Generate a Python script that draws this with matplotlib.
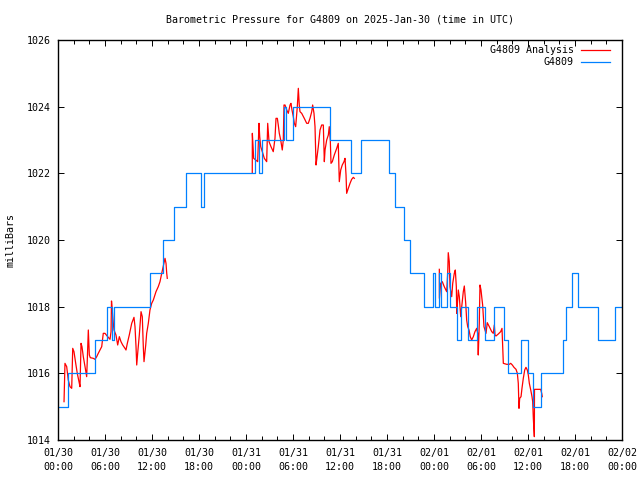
"""
Barometric pressure chart for G4809 - analysis vs observed, gnuplot look.
"""
import matplotlib
matplotlib.use("Agg")
import matplotlib.pyplot as plt
from matplotlib.lines import Line2D

# hours since 2025-01-30 00:00 UTC
obs_hours = [0, 1.28, 4.76, 6.3, 6.9, 7.1, 11.7, 13.4, 14.8, 16.3, 18.25, 18.6,
             25.2, 25.7, 26.05, 28.8, 29.1, 30.0, 34.7, 37.4, 38.7, 42.25, 43.0,
             44.2, 44.9, 46.7, 47.9, 48.1, 48.65, 48.9, 49.7, 50.0, 50.9, 51.45,
             52.35, 53.55, 54.5, 55.65, 56.95, 57.45, 59.1, 60.0, 60.6, 61.65,
             64.5, 64.85, 65.6, 66.4, 68.95, 71.05, 72]
obs_mb = [1015, 1016, 1017, 1018, 1017, 1018, 1019, 1020, 1021, 1022, 1021, 1022,
          1023, 1022, 1023, 1024, 1023, 1024, 1023, 1022, 1023, 1022, 1021,
          1020, 1019, 1018, 1019, 1018, 1019, 1018, 1019, 1018, 1017, 1018,
          1017, 1018, 1017, 1018, 1017, 1016, 1017, 1016, 1015, 1016,
          1017, 1018, 1019, 1018, 1017, 1018, 1018]

# analysis, three separate runs
ana1_hours = [0.77, 0.89, 1.11, 1.31, 1.53, 1.75, 1.88, 2.04, 2.26, 2.46, 2.68, 2.81,
              2.94, 3.06, 3.23, 3.45, 3.66, 3.74, 3.87, 4.00, 4.12, 4.51, 4.72, 4.94,
              5.14, 5.58, 5.78, 6.00, 6.34, 6.64, 6.77, 6.83, 6.93, 7.06, 7.15, 7.40,
              7.62, 7.83, 8.04, 8.26, 8.55, 8.68, 8.85, 9.10, 9.41, 9.70, 9.83, 9.96,
              10.05, 10.17, 10.38, 10.60, 10.76, 10.89, 10.98, 11.20, 11.32, 11.53,
              11.74, 11.96, 12.17, 12.51, 12.80, 13.02, 13.24, 13.66, 13.79, 13.88, 13.95]
ana1_mb = [1015.15, 1016.30, 1016.20, 1015.80, 1015.60, 1015.55, 1016.75, 1016.65,
           1016.30, 1016.00, 1015.75, 1015.60, 1016.90, 1016.80, 1016.50, 1016.20,
           1015.90, 1016.40, 1017.30, 1016.55, 1016.47, 1016.45, 1016.42, 1016.50,
           1016.60, 1016.80, 1017.20, 1017.20, 1017.10, 1017.02, 1017.25, 1018.17,
           1017.90, 1017.50, 1017.30, 1017.15, 1016.85, 1017.10, 1016.95, 1016.85,
           1016.75, 1016.70, 1016.90, 1017.15, 1017.50, 1017.68, 1017.40, 1016.80,
           1016.25, 1016.60, 1017.15, 1017.85, 1017.70, 1016.80, 1016.35, 1016.85,
           1017.20, 1017.50, 1017.90, 1018.10, 1018.20, 1018.45, 1018.60, 1018.75,
           1019.00, 1019.45, 1019.30, 1019.00, 1018.85]

ana2_hours = [24.80, 24.81, 24.89, 24.98, 25.24, 25.49, 25.66, 25.75, 25.88, 26.08,
              26.34, 26.64, 26.77, 26.94, 27.19, 27.48, 27.70, 27.83, 28.00, 28.12,
              28.25, 28.43, 28.63, 28.76, 28.85, 28.98, 29.20, 29.40, 29.62, 29.74,
              29.87, 30.04, 30.17, 30.34, 30.55, 30.68, 30.80, 30.89, 31.11, 31.44,
              31.75, 31.95, 32.17, 32.39, 32.51, 32.68, 32.81, 32.94, 33.02, 33.23,
              33.45, 33.66, 33.87, 34.00, 34.09, 34.30, 34.51, 34.63, 34.76, 34.85,
              35.02, 35.27, 35.58, 35.78, 35.91, 36.09, 36.29, 36.51, 36.64, 36.77,
              36.85, 37.06, 37.28, 37.49, 37.70, 37.83]
ana2_mb = [1022.00, 1023.20, 1022.85, 1022.45, 1022.40, 1022.35, 1023.50, 1023.10,
           1022.80, 1022.65, 1022.45, 1022.35, 1023.50, 1022.95, 1022.80, 1022.65,
           1023.05, 1023.65, 1023.65, 1023.45, 1023.20, 1023.00, 1022.70, 1023.00,
           1024.05, 1024.05, 1023.90, 1023.80, 1024.05, 1024.10, 1023.90, 1023.70,
           1023.50, 1023.40, 1024.00, 1024.55, 1024.05, 1023.85, 1023.80, 1023.65,
           1023.50, 1023.50, 1023.65, 1023.85, 1024.05, 1023.80, 1023.40, 1022.25,
           1022.40, 1022.80, 1023.30, 1023.45, 1023.45, 1022.35, 1022.70, 1023.00,
           1023.15, 1023.40, 1023.00, 1022.30, 1022.35, 1022.55, 1022.75, 1022.90,
           1021.75, 1022.10, 1022.25, 1022.35, 1022.45, 1021.95, 1021.40, 1021.55,
           1021.70, 1021.82, 1021.88, 1021.85]

ana3_hours = [48.68, 48.69, 48.85, 49.06, 49.31, 49.62, 49.75, 49.82, 49.95, 50.04,
              50.26, 50.39, 50.59, 50.72, 50.85, 50.90, 51.02, 51.10, 51.23, 51.41,
              51.54, 51.74, 51.87, 52.05, 52.17, 52.30, 52.47, 52.63, 52.81, 53.02,
              53.23, 53.45, 53.58, 53.65, 53.78, 53.87, 54.00, 54.09, 54.21, 54.38,
              54.64, 54.80, 55.06, 55.37, 55.57, 55.70, 55.79, 55.91, 56.21, 56.51,
              56.68, 56.77, 56.85, 57.28, 57.61, 57.79, 58.00, 58.21, 58.47, 58.64,
              58.76, 58.85, 58.94, 59.11, 59.23, 59.40, 59.58, 59.74, 59.91, 60.04,
              60.17, 60.35, 60.51, 60.60, 60.68, 60.81, 60.83, 61.62, 61.75, 61.82]
ana3_mb = [1019.12, 1018.25, 1018.70, 1018.75, 1018.60, 1018.45, 1019.00, 1019.62,
           1019.35, 1018.60, 1018.30, 1018.70, 1019.00, 1019.10, 1018.60, 1017.80,
           1018.20, 1018.50, 1018.30, 1017.70, 1018.00, 1018.45, 1018.62, 1018.10,
           1017.60, 1017.40, 1017.30, 1017.10, 1017.00, 1017.10, 1017.25, 1017.35,
           1017.20, 1016.55, 1017.50, 1018.65, 1018.50, 1018.30, 1018.05, 1017.40,
           1017.20, 1017.52, 1017.40, 1017.25, 1017.20, 1017.45, 1017.15, 1017.12,
           1017.18, 1017.25, 1017.35, 1016.80, 1016.30, 1016.27, 1016.27, 1016.30,
           1016.25, 1016.18, 1016.12, 1016.00, 1015.70, 1014.95, 1015.25, 1015.30,
           1015.55, 1015.85, 1016.10, 1016.18, 1016.10, 1015.95, 1015.70, 1015.50,
           1015.30, 1015.15, 1014.65, 1014.10, 1015.52, 1015.52, 1015.40, 1015.30]

xtick_hours = list(range(0, 73, 6))
xtick_labels = ["01/30\n00:00", "01/30\n06:00", "01/30\n12:00", "01/30\n18:00",
                "01/31\n00:00", "01/31\n06:00", "01/31\n12:00", "01/31\n18:00",
                "02/01\n00:00", "02/01\n06:00", "02/01\n12:00", "02/01\n18:00",
                "02/02\n00:00"]
yticks = list(range(1014, 1027, 2))

RED = "#ff0000"
BLUE = "#0080ff"
plt.rcParams["font.family"] = "DejaVu Sans Mono"
plt.rcParams["font.size"] = 7.2

fig = plt.figure(figsize=(6.4, 4.8), dpi=100)
ax = fig.add_axes([58 / 640, 40 / 480, 564 / 640, 400 / 480])

for h, v in [(ana1_hours, ana1_mb), (ana2_hours, ana2_mb), (ana3_hours, ana3_mb)]:
    ax.plot(h, v, color=RED, linewidth=0.9)
ax.plot(obs_hours, obs_mb, color=BLUE, linewidth=0.9, drawstyle="steps-post")

ax.set_xlim(0, 72)
ax.set_ylim(1014, 1026)
ax.set_xticks(xtick_hours)
ax.set_xticklabels(xtick_labels, linespacing=1.5)
ax.set_xticks(range(0, 73, 2), minor=True)
ax.set_yticks(yticks)
ax.tick_params(direction="in", top=True, right=True, which="both", width=0.7)
ax.tick_params(which="major", length=4)
ax.tick_params(which="minor", length=3)
ax.tick_params(axis="x", pad=6)
ax.tick_params(axis="y", pad=5)
for s in ax.spines.values():
    s.set_linewidth(1.0)

ax.set_ylabel("milliBars", labelpad=8)
fig.text(340 / 640, 1 - 19 / 480, "Barometric Pressure for G4809 on 2025-Jan-30 (time in UTC)",
         ha="center", va="center")

# gnuplot style key: right-aligned text with sample after it
key = [("G4809 Analysis", RED), ("G4809", BLUE)]
for i, (label, col) in enumerate(key):
    yk = 1 - (10.5 + 11.5 * i) / 400
    ax.text((574 - 58) / 564, yk, label, transform=ax.transAxes, ha="right", va="center")
    ax.add_line(Line2D([(581 - 58) / 564, (610 - 58) / 564], [yk, yk],
                       transform=ax.transAxes, color=col, linewidth=0.9))

fig.savefig("out.png", dpi=100)
